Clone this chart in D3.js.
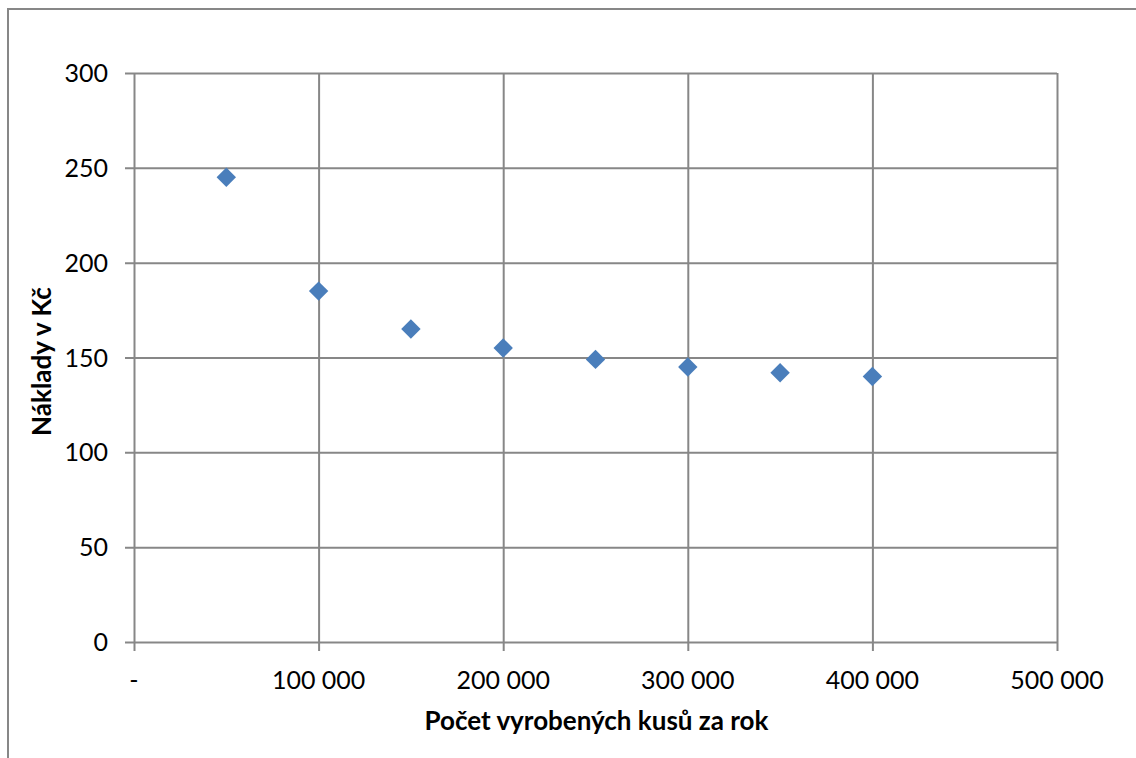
<!DOCTYPE html>
<html>
<head>
<meta charset="utf-8">
<script src="https://cdn.jsdelivr.net/npm/d3@7"></script>
<style>
  html, body { margin: 0; padding: 0; background: #fff; }
  svg { display: block; }
  text { font-family: Lato, "Open Sans", sans-serif; fill: #000; }
</style>
</head>
<body>
<svg id="chart" width="1136" height="758"></svg>
<script>
// Unit cost versus yearly production volume
const quantities = [50000, 100000, 150000, 200000, 250000, 300000, 350000, 400000];
const costs = [245, 185, 165, 155, 149, 145, 142, 140];

const xTicks = [0, 100000, 200000, 300000, 400000, 500000];
const yTicks = [0, 50, 100, 150, 200, 250, 300];
const xTitle = "Počet vyrobených kusů za rok";
const yTitle = "Náklady v Kč";

const W = 1136, H = 758;
const plot = { left: 134, right: 1057, top: 73, bottom: 642 };
const gridColor = "#878787";
const markerColor = "#4a7ebb";

const svg = d3.select("#chart");

// outer chart frame (runs past the right and bottom edges)
svg.append("rect")
  .attr("x", 8).attr("y", 9)
  .attr("width", 1300).attr("height", 900)
  .attr("fill", "#fff")
  .attr("stroke", gridColor).attr("stroke-width", 2);

const x = d3.scaleLinear().domain([0, 500000]).range([plot.left, plot.right]);
const y = d3.scaleLinear().domain([0, 300]).range([plot.bottom, plot.top]);

const fmtX = v => v === 0 ? "-" : d3.format(",")(v).replace(/,/g, " ");

// horizontal gridlines with left tick marks
const yAxis = d3.axisLeft(y)
  .tickValues(yTicks)
  .tickSize(-(plot.right - plot.left))
  .tickPadding(0)
  .tickFormat("");
const gy = svg.append("g").attr("transform", `translate(${plot.left},0)`).call(yAxis);
gy.select(".domain").remove();
gy.selectAll(".tick line").attr("stroke", gridColor).attr("stroke-width", 2).attr("x1", -9);

// vertical gridlines with bottom tick marks
const xAxis = d3.axisBottom(x)
  .tickValues(xTicks)
  .tickSize(-(plot.bottom - plot.top))
  .tickFormat("");
const gx = svg.append("g").attr("transform", `translate(0,${plot.bottom})`).call(xAxis);
gx.select(".domain").remove();
gx.selectAll(".tick line").attr("stroke", gridColor).attr("stroke-width", 2).attr("y1", 9);

// tick labels
svg.append("g").selectAll("text")
  .data(yTicks).join("text")
  .attr("x", 108)
  .attr("y", d => y(d) + 9)
  .attr("text-anchor", "end")
  .attr("font-size", 25)
  .text(d => d);

svg.append("g").selectAll("text")
  .data(xTicks).join("text")
  .attr("x", d => x(d))
  .attr("y", 689)
  .attr("text-anchor", "middle")
  .attr("font-size", 25)
  .text(fmtX);

// axis titles
svg.append("text")
  .attr("x", (plot.left + plot.right) / 2 + 1)
  .attr("y", 730)
  .attr("text-anchor", "middle")
  .attr("font-size", 26)
  .attr("font-weight", "bold")
  .text(xTitle);

svg.append("text")
  .attr("transform", `translate(51,${(plot.top + plot.bottom) / 2 + 4}) rotate(-90)`)
  .attr("text-anchor", "middle")
  .attr("font-size", 26)
  .attr("font-weight", "bold")
  .text(yTitle);

// diamond markers
const diamond = d3.symbol().type(d3.symbolDiamond2).size(240);
svg.append("g").selectAll("path")
  .data(quantities.map((q, i) => ({ q, c: costs[i] })))
  .join("path")
  .attr("transform", d => `translate(${x(d.q)},${y(d.c)})`)
  .attr("d", diamond)
  .attr("fill", markerColor);
</script>
</body>
</html>
